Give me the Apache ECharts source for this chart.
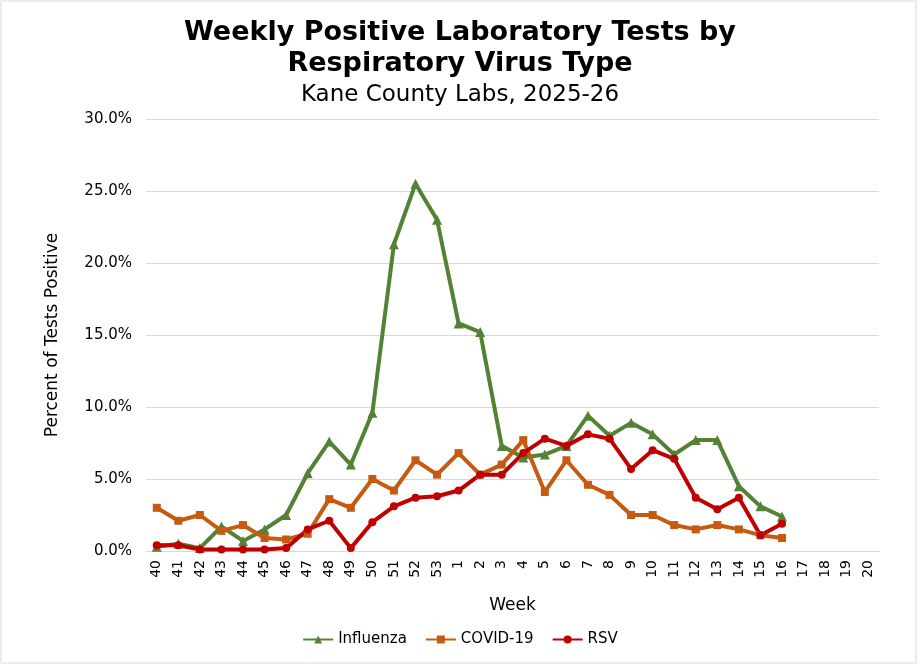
<!DOCTYPE html>
<html>
<head>
<meta charset="utf-8">
<title>Weekly Positive Laboratory Tests by Respiratory Virus Type</title>
<script src="https://cdn.jsdelivr.net/npm/echarts@6/dist/echarts.min.js"></script>
<style>
  html, body { margin: 0; padding: 0; background: #fff; }
  #chart { width: 920px; height: 667px; }
</style>
</head>
<body>
<div id="chart"></div>
<script>
// weeks of the 2025-26 season
var weeks = ['40', '41', '42', '43', '44', '45', '46', '47', '48', '49', '50', '51', '52', '53',
  '1', '2', '3', '4', '5', '6', '7', '8', '9', '10', '11', '12', '13', '14', '15', '16', '17', '18', '19', '20'];

// percent positive (weeks 17-20 have no data yet)
var influenza = [0.3, 0.5, 0.2, 1.7, 0.7, 1.5, 2.5, 5.4, 7.6, 6.0, 9.6, 21.3, 25.5, 23.0,
  15.8, 15.2, 7.3, 6.5, 6.7, 7.3, 9.4, 8.0, 8.9, 8.1, 6.7, 7.7, 7.7, 4.5, 3.1, 2.4, null, null, null, null];
var covid = [3.0, 2.1, 2.5, 1.4, 1.8, 0.9, 0.8, 1.2, 3.6, 3.0, 5.0, 4.2, 6.3, 5.3,
  6.8, 5.3, 6.0, 7.7, 4.1, 6.3, 4.6, 3.9, 2.5, 2.5, 1.8, 1.5, 1.8, 1.5, 1.1, 0.9, null, null, null, null];
var rsv = [0.4, 0.4, 0.1, 0.1, 0.1, 0.1, 0.2, 1.5, 2.1, 0.2, 2.0, 3.1, 3.7, 3.8,
  4.2, 5.3, 5.3, 6.8, 7.8, 7.3, 8.1, 7.8, 5.7, 7.0, 6.4, 3.7, 2.9, 3.7, 1.1, 1.9, null, null, null, null];

var font = 'DejaVu Sans, Verdana, sans-serif';
var chart = echarts.init(document.getElementById('chart'));

function line(name, data, color, symbol, size) {
  return {
    name: name,
    type: 'line',
    data: data,
    symbol: symbol,
    symbolSize: size,
    showSymbol: true,
    lineStyle: { color: color, width: 4 },
    itemStyle: { color: color },
    emphasis: { disabled: true },
    z: 3
  };
}

var option = {
  backgroundColor: '#fff',
  animation: false,
  textStyle: { fontFamily: font },
  title: [
    {
      text: 'Weekly Positive Laboratory Tests by\nRespiratory Virus Type',
      left: 'center',
      top: 12,
      textStyle: { fontFamily: font, fontSize: 27, fontWeight: 'bold', color: '#000', lineHeight: 31 }
    },
    {
      text: 'Kane County Labs, 2025-26',
      left: 'center',
      top: 79,
      textStyle: { fontFamily: font, fontSize: 23, fontWeight: 'normal', color: '#000' }
    }
  ],
  legend: {
    bottom: 15,
    left: 'center',
    itemWidth: 30,
    itemHeight: 10,
    itemGap: 18,
    textStyle: { fontFamily: font, fontSize: 15, color: '#000' },
    data: ['Influenza', 'COVID-19', 'RSV']
  },
  grid: { left: 146, right: 41, top: 119, bottom: 116 },
  xAxis: {
    type: 'category',
    data: weeks,
    boundaryGap: true,
    name: 'Week',
    nameLocation: 'middle',
    nameGap: 46,
    nameTextStyle: { fontFamily: font, fontSize: 17, color: '#000' },
    axisLine: { show: true, lineStyle: { color: '#d9d9d9' } },
    axisTick: { show: false },
    axisLabel: { rotate: 90, interval: 0, fontSize: 14, color: '#000', margin: 9, fontFamily: font }
  },
  yAxis: {
    type: 'value',
    min: 0,
    max: 30,
    interval: 5,
    name: 'Percent of Tests Positive',
    nameLocation: 'middle',
    nameGap: 85,
    nameTextStyle: { fontFamily: font, fontSize: 17, color: '#000' },
    axisLine: { show: false },
    axisTick: { show: false },
    axisLabel: {
      fontSize: 15, color: '#000', margin: 14, fontFamily: font,
      formatter: function (v) { return v.toFixed(1) + '%'; }
    },
    splitLine: { lineStyle: { color: '#d9d9d9', width: 1 } }
  },
  graphic: [{
    type: 'rect',
    shape: { x: 1, y: 1, width: 915, height: 662 },
    style: { fill: 'none', stroke: '#d9d9d9', lineWidth: 1 },
    silent: true
  }],
  series: [
    line('Influenza', influenza, '#548235', 'triangle', 10),
    line('COVID-19', covid, '#c55a11', 'rect', 8),
    line('RSV', rsv, '#c00000', 'circle', 8)
  ]
};

chart.setOption(option);
</script>
</body>
</html>
